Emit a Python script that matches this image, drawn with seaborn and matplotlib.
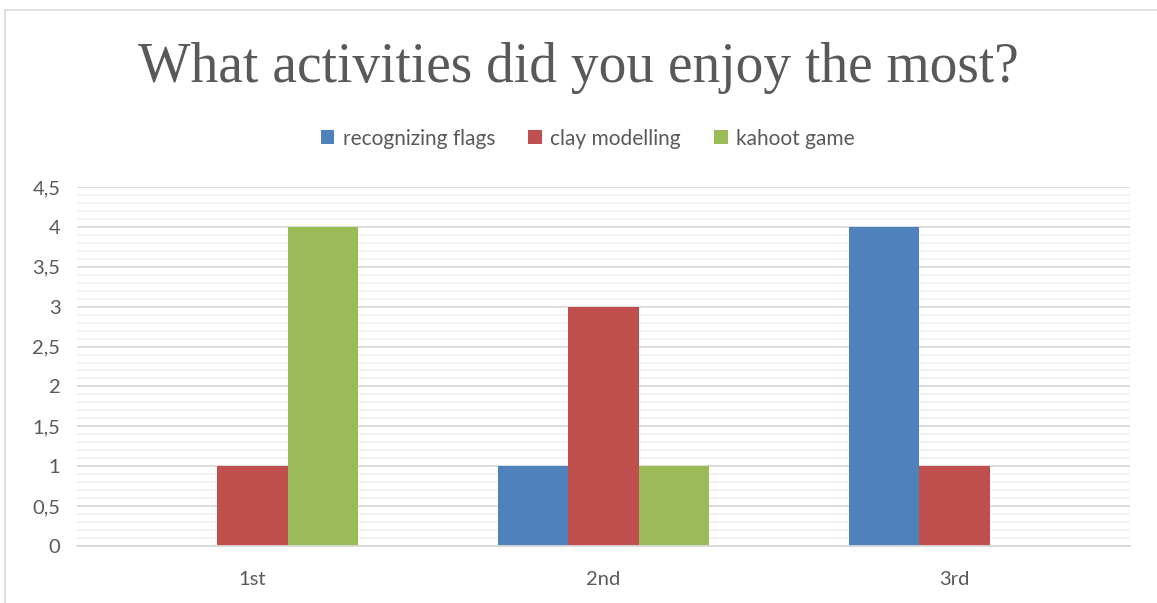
import pandas as pd
import matplotlib.pyplot as plt
import seaborn as sns
from matplotlib.ticker import MultipleLocator, FuncFormatter
from matplotlib.patches import Rectangle

# data
places = ['1st', '2nd', '3rd']
activities = ['recognizing flags', 'clay modelling', 'kahoot game']
flags = [0, 1, 4]
clay = [1, 3, 1]
kahoot = [4, 1, 0]
colors = ['#4F81BD', '#C0504D', '#9BBB59']

rows = []
for act, vals in zip(activities, [flags, clay, kahoot]):
    for p, v in zip(places, vals):
        rows.append({'place': p, 'activity': act, 'votes': v})
df = pd.DataFrame(rows)

sns.set_style('white')
plt.rcParams['font.family'] = ['Lato', 'DejaVu Sans']

fig = plt.figure(figsize=(11.57, 6.03), dpi=100)
ax = fig.add_axes([0.0666, 0.0945, 0.91, 0.5954])

sns.barplot(data=df, x='place', y='votes', hue='activity', hue_order=activities,
            palette=colors, width=0.6, saturation=1, ax=ax, edgecolor='none')

ax.set_xlim(-0.5, 2.5)
ax.set_ylim(0, 4.5)
ax.yaxis.set_major_locator(MultipleLocator(0.5))
ax.yaxis.set_minor_locator(MultipleLocator(0.1))
ax.yaxis.set_major_formatter(FuncFormatter(lambda v, _: f'{v:g}'.replace('.', ',')))
ax.grid(which='major', axis='y', color='#D9D9D9', linewidth=1.3)
ax.grid(which='minor', axis='y', color='#F2F2F2', linewidth=1.3)
ax.set_axisbelow(True)
for s in ['top', 'right', 'left']:
    ax.spines[s].set_visible(False)
ax.spines['bottom'].set_color('#D9D9D9')
ax.spines['bottom'].set_linewidth(1.3)
ax.tick_params(axis='both', which='both', length=0, labelsize=14.5, colors='#595959', pad=12)
ax.tick_params(axis='x', pad=18)
ax.set_xlabel('')
ax.set_ylabel('')

ax.legend(loc='upper center', bbox_to_anchor=(0.485, 1.215), ncol=3, frameon=False,
          fontsize=15, handlelength=0.65, handleheight=0.65, columnspacing=1.6,
          handletextpad=0.4, labelcolor='#595959')

fig.text(0.5, 0.887, 'What activities did you enjoy the most?', ha='center', va='center',
         fontsize=40, color='#595959', family=['Liberation Serif'])

# light frame around the chart area
fig.add_artist(Rectangle((0.004, -0.01), 1.2, 0.994, transform=fig.transFigure,
                         fill=False, edgecolor='#D9D9D9', linewidth=1.2))

fig.savefig('out.png', dpi=100)
